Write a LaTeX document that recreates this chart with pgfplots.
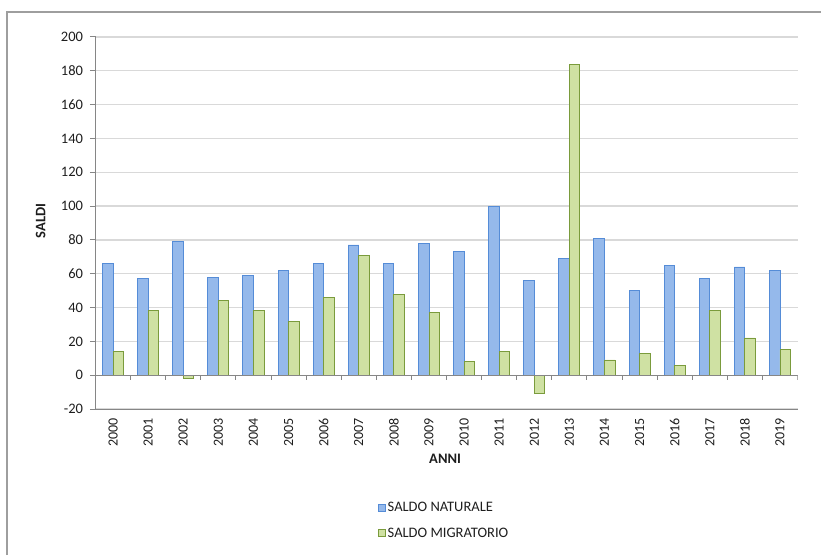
\documentclass[border=0pt]{standalone}
\usepackage{fontspec}
\setmainfont{Carlito}
\usepackage{pgfplots}
\pgfplotsset{compat=1.18}
\definecolor{bluefill}{RGB}{149,185,235}
\definecolor{blueedge}{RGB}{85,140,215}
\definecolor{greenfill}{RGB}{207,225,163}
\definecolor{greenedge}{RGB}{122,155,60}
\definecolor{gridc}{RGB}{217,217,217}
\definecolor{axisc}{RGB}{134,134,134}
\definecolor{txt}{RGB}{30,30,30}
\begin{document}
\begin{tikzpicture}[x=1pt,y=1pt]
\path[use as bounding box] (0,0) rectangle (821,555);
\draw[axisc!80, line width=1.2pt] (7,0) -- (7,543) -- (821,543);
\begin{axis}[
  at={(95.5pt,146pt)}, anchor=south west,
  scale only axis, width=702pt, height=372pt,
  ymin=-20, ymax=200, ytick={-20,0,...,200},
  xmin=-0.5, xmax=19.5,
  xtick={0,...,19},
  xticklabels={2000,2001,2002,2003,2004,2005,2006,2007,2008,2009,2010,2011,2012,2013,2014,2015,2016,2017,2018,2019},
  xticklabel style={rotate=90, anchor=east, font=\fontsize{14}{16}\selectfont, text=txt},
  yticklabel style={font=\fontsize{14.5}{16}\selectfont, text=txt, xshift=-3.5pt},
  /pgf/number format/assume math mode=true,
  axis x line*=bottom, axis y line*=left,
  axis line style={axisc, line width=1pt},
  xtick style={draw=none},
  ytick style={axisc, line width=1pt},
  tick align=outside, major tick length=5.5pt,
  ymajorgrids, grid style={gridc, line width=1.2pt},
  ybar, bar width=0.3,
  xlabel={\textbf{ANNI}}, ylabel={\textbf{SALDI}},
  xlabel style={at={(rel axis cs:0.498,-0.134)}, anchor=center, font=\fontsize{14.5}{16}\selectfont, text=txt},
  ylabel style={at={(rel axis cs:-0.078,0.505)}, anchor=center, rotate=0, font=\fontsize{14.5}{16}\selectfont, text=txt},
  legend style={at={(0.402,-0.244)}, anchor=north west, draw=none, fill=none,
    font=\fontsize{14.5}{16}\selectfont, text=txt, row sep=11pt, inner sep=0pt},
  legend cell align=left,
  legend image code/.code={\draw[#1, line width=0.8pt] (0pt,-3.5pt) rectangle (7pt,3.5pt);},
]
\addplot[fill=bluefill, draw=blueedge, line width=0.9pt, bar shift=-0.15] coordinates {
(0,66) (1,57) (2,79) (3,58) (4,59) (5,62) (6,66) (7,77) (8,66) (9,78)
(10,73) (11,100) (12,56) (13,69) (14,81) (15,50) (16,65) (17,57) (18,64) (19,62)};
\addlegendentry{SALDO NATURALE}
\addplot[fill=greenfill, draw=greenedge, line width=0.9pt, bar shift=0.15] coordinates {
(0,14) (1,38) (2,-2) (3,44) (4,38) (5,32) (6,46) (7,71) (8,48) (9,37)
(10,8) (11,14) (12,-11) (13,184) (14,9) (15,13) (16,6) (17,38) (18,22) (19,15)};
\addlegendentry{SALDO MIGRATORIO}
\draw[axisc, line width=1pt] (axis cs:-0.5,0) -- (axis cs:19.5,0);
\pgfplotsinvokeforeach{0,...,19}{
  \draw[axisc, line width=1pt] (axis cs:#1+0.5,0) -- ([yshift=-5pt]axis cs:#1+0.5,0);
}
\end{axis}
\end{tikzpicture}
\end{document}
